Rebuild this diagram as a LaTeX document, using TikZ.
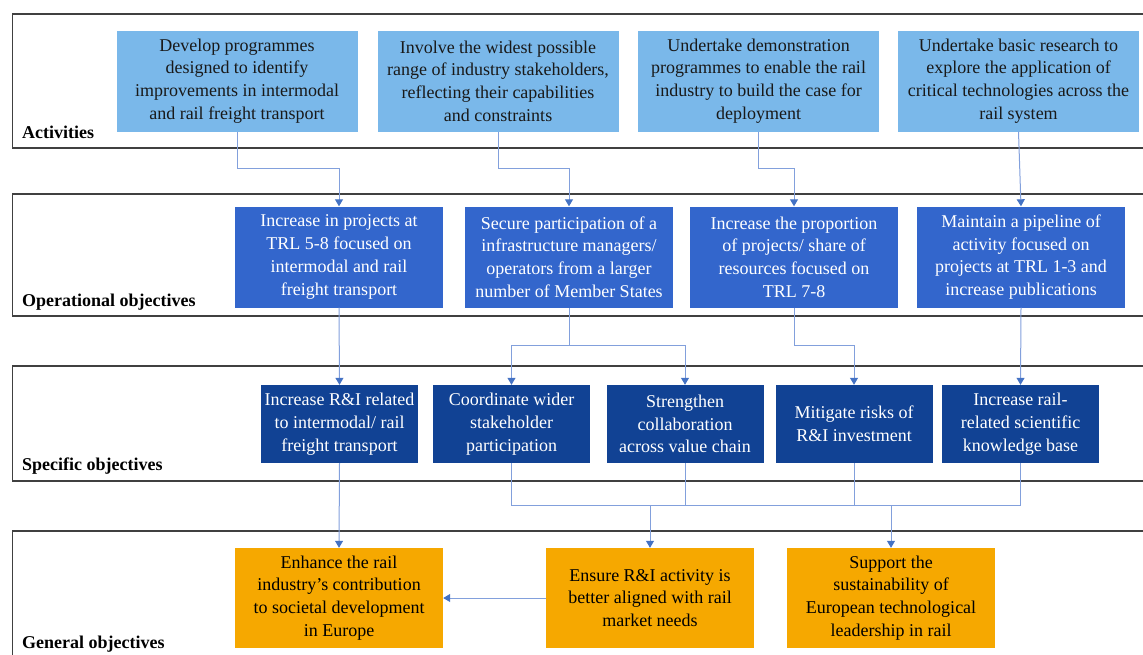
\documentclass[tikz,border=0pt]{standalone}
\usepackage{fontspec}
\setmainfont{Liberation Serif}
\usetikzlibrary{arrows.meta}
\definecolor{actfill}{RGB}{122,184,234}
\definecolor{opfill}{RGB}{51,102,204}
\definecolor{specfill}{RGB}{17,66,148}
\definecolor{genfill}{RGB}{246,168,0}
\definecolor{linkcol}{RGB}{130,160,220}
\definecolor{tipcol}{RGB}{68,114,196}
\begin{document}
\begin{tikzpicture}[x=1pt,y=-1pt,
  boxtext/.style={align=center, inner sep=2pt, font=\fontsize{18}{22.7}\selectfont},
  actbox/.style={boxtext, fill=actfill, text=black!90, minimum width=241pt, minimum height=101pt},
  opbox/.style={boxtext, fill=opfill, text=white, minimum width=208pt, minimum height=101pt},
  specbox/.style={boxtext, fill=specfill, text=white, minimum width=157pt, minimum height=78pt},
  genbox/.style={boxtext, fill=genfill, text=black, minimum width=208pt, minimum height=100pt},
  band/.style={draw=black!75, line width=1.3pt},
  bandlabel/.style={anchor=base west, inner sep=0pt, font=\fontsize{18}{22}\selectfont\bfseries},
  conn/.style={draw=linkcol, line width=1pt},
  arr/.style={conn, -{Triangle[width=8pt,length=7pt,fill=tipcol,color=tipcol]}}
]
\useasboundingbox (0,0) rectangle (1143,654);
\clip (0,0) rectangle (1143,654);

% horizontal bands
\draw[band] (12.5,14) rectangle (1170,148);
\draw[band] (12.5,194) rectangle (1170,316);
\draw[band] (12.5,366) rectangle (1170,481);
\draw[band] (12.5,531) rectangle (1170,680);

\node[bandlabel] (lact) at (22,138) {Activities};
\node[bandlabel] (lop) at (22,306) {Operational objectives};
\node[bandlabel] (lspec) at (22,470) {Specific objectives};
\node[bandlabel] (lgen) at (22,648) {General objectives};

% activities
\node[actbox] (A1) at (237,81) {Develop programmes\\designed to identify\\improvements in intermodal\\and rail freight transport};
\node[actbox] (A2) at (498,81) {Involve the widest possible\\range of industry stakeholders,\\reflecting their capabilities\\and constraints};
\node[actbox] (A3) at (758.5,81) {Undertake demonstration\\programmes to enable the rail\\industry to build the case for\\deployment};
\node[actbox] (A4) at (1018.5,81) {Undertake basic research to\\explore the application of\\critical technologies across the\\rail system};

% operational objectives
\node[opbox] (O1) at (339,257) {Increase in projects at\\TRL 5-8 focused on\\intermodal and rail\\freight transport};
\node[opbox] (O2) at (569,257) {Secure participation of a\\infrastructure managers/\\operators from a larger\\number of Member States};
\node[opbox] (O3) at (794,257) {Increase the proportion\\of projects/ share of\\resources focused on\\TRL 7-8};
\node[opbox] (O4) at (1021,257) {Maintain a pipeline of\\activity focused on\\projects at TRL 1-3 and\\increase publications};

% specific objectives
\node[specbox] (S1) at (339.5,424) {Increase R\&I related\\to intermodal/ rail\\freight transport};
\node[specbox] (S2) at (511.5,424) {Coordinate wider\\stakeholder\\participation};
\node[specbox] (S3) at (685,424) {Strengthen\\collaboration\\across value chain};
\node[specbox] (S4) at (854,424) {Mitigate risks of\\R\&I investment};
\node[specbox] (S5) at (1020.5,424) {Increase rail-\\related scientific\\knowledge base};

% general objectives
\node[genbox] (G1) at (339,598) {Enhance the rail\\industry’s contribution\\to societal development\\in Europe};
\node[genbox] (G2) at (650,598) {Ensure R\&I activity is\\better aligned with rail\\market needs};
\node[genbox] (G3) at (891,598) {Support the\\sustainability of\\European technological\\leadership in rail};

% routing levels
\coordinate (r1) at (0,168);
\coordinate (r2) at (0,345);
\coordinate (r3) at (0,505);

% activities -> operational
\draw[arr] (A1.south) -- (A1.south |- r1) -| (O1.north);
\draw[arr] (A2.south) -- (A2.south |- r1) -| (O2.north);
\draw[arr] (A3.south) -- (A3.south |- r1) -| (O3.north);
\draw[arr] (A4.south) -- (O4.north);

% operational -> specific
\draw[arr] (O1.south) -- (S1.north);
\draw[conn] (O2.south) -- (O2.south |- r2);
\draw[conn] (S2.north |- r2) -- (S3.north |- r2);
\draw[arr] (S2.north |- r2) -- (S2.north);
\draw[arr] (S3.north |- r2) -- (S3.north);
\draw[arr] (O3.south) -- (O3.south |- r2) -| (S4.north);
\draw[arr] (O4.south) -- (S5.north);

% specific -> general
\draw[arr] (S1.south) -- (G1.north);
\draw[conn] (S2.south) -- (S2.south |- r3) -- (S5.south |- r3) -- (S5.south);
\draw[conn] (S3.south) -- (S3.south |- r3);
\draw[conn] (S4.south) -- (S4.south |- r3);
\draw[arr] (G2.north |- r3) -- (G2.north);
\draw[arr] (G3.north |- r3) -- (G3.north);
\draw[arr] (G2.west) -- (G1.east);
\end{tikzpicture}
\end{document}
